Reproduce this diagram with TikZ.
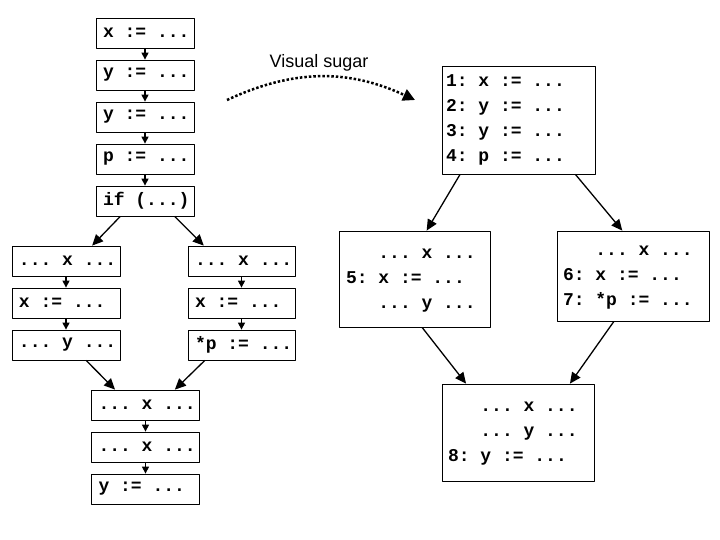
\documentclass[tikz,border=0pt]{standalone}
\usepackage{fontspec}
\setmainfont{Liberation Sans}
\newfontfamily\codefont{Liberation Mono}
\newcommand\codesize{\fontsize{18}{25}\selectfont}
\newcommand\csp{\hbox to 0.6em{}}% one fixed mono blank
\usetikzlibrary{arrows.meta,calc}

\begin{document}
\begin{tikzpicture}[x=1pt, y=-1pt, line join=round,
		blk/.style={draw, line width=0.8pt, inner xsep=7pt, inner ysep=0pt, minimum height=30pt, align=left,
			font=\codefont\bfseries\codesize},
		flow/.style={-{Triangle[length=7pt,width=7pt]}, line width=1.2pt},
		bigflow/.style={-{Triangle[length=11pt,width=10pt]}, line width=1.3pt}]
	\useasboundingbox (0,0) rectangle (720,540);
	% original code, one statement per block
	\node[blk, text width=84pt] (s1) at (145,33) {x\csp:=\csp...};
	\node[blk, text width=84pt] (s2) at (145,75) {y\csp:=\csp...};
	\node[blk, text width=84pt] (s3) at (145,117) {y\csp:=\csp...};
	\node[blk, text width=84pt] (s4) at (145,159) {p\csp:=\csp...};
	\node[blk, text width=84pt] (cond) at (145,201) {if\csp(...)};
	\node[blk, text width=94pt] (l1) at (66,261) {...\csp x\csp...};
	\node[blk, text width=94pt] (l2) at (66,303) {x\csp:=\csp...};
	\node[blk, text width=94pt] (l3) at (66,345) {...\csp y\csp...};
	\node[blk, text width=93pt] (r1) at (241.5,261) {...\csp x\csp...};
	\node[blk, text width=93pt] (r2) at (241.5,303) {x\csp:=\csp...};
	\node[blk, text width=93pt] (r3) at (241.5,345) {*p\csp:=\csp...};
	\node[blk, text width=94pt] (m1) at (145.5,405) {...\csp x\csp...};
	\node[blk, text width=94pt] (m2) at (145.5,447) {...\csp x\csp...};
	\node[blk, text width=94pt] (m3) at (145.5,489) {y\csp:=\csp...};
	\draw[flow] (s1) -- (s2);
	\draw[flow] (s2) -- (s3);
	\draw[flow] (s3) -- (s4);
	\draw[flow] (s4) -- (cond);
	\draw[flow] (l1) -- (l2);
	\draw[flow] (l2) -- (l3);
	\draw[flow] (r1) -- (r2);
	\draw[flow] (r2) -- (r3);
	\draw[flow] (m1) -- (m2);
	\draw[flow] (m2) -- (m3);
	\draw[bigflow] ($(cond.south west)!0.25!(cond.south east)$) -- ($(l1.north west)!0.74!(l1.north east)$);
	\draw[bigflow] ($(cond.south west)!0.8!(cond.south east)$) -- ($(r1.north west)!0.15!(r1.north east)$);
	\draw[bigflow] ($(l3.south west)!0.685!(l3.south east)$) -- ($(m1.north west)!0.22!(m1.north east)$);
	\draw[bigflow] ($(r3.south west)!0.16!(r3.south east)$) -- ($(m1.north west)!0.77!(m1.north east)$);
	% numbered basic blocks
	\node[blk, inner xsep=4pt, text width=145pt, minimum height=108pt] (b1) at (518.5,120)
		{1:\csp x\csp:=\csp...\\2:\csp y\csp:=\csp...\\3:\csp y\csp:=\csp...\\4:\csp p\csp:=\csp...};
	\node[blk, text width=137pt, minimum height=96pt] (b2) at (414.5,279)
		{\phantom{5:\csp}...\csp x\csp...\\5:\csp x\csp:=\csp...\\\phantom{5:\csp}...\csp y\csp...};
	\node[blk, inner xsep=6pt, text width=140pt, minimum height=90pt] (b3) at (633,276)
		{\phantom{6:\csp}...\csp x\csp...\\6:\csp x\csp:=\csp...\\7:\csp*p\csp:=\csp...};
	\node[blk, inner xsep=6pt, text width=140pt, minimum height=97pt] (b4) at (518,432.5)
		{\phantom{8:\csp}...\csp x\csp...\\\phantom{8:\csp}...\csp y\csp...\\8:\csp y\csp:=\csp...};
	\draw[bigflow] ($(b1.south west)!0.12!(b1.south east)$) -- ($(b2.north west)!0.58!(b2.north east)$);
	\draw[bigflow] ($(b1.south west)!0.87!(b1.south east)$) -- ($(b3.north west)!0.43!(b3.north east)$);
	\draw[bigflow] ($(b2.south west)!0.55!(b2.south east)$) -- ($(b4.north west)!0.16!(b4.north east)$);
	\draw[bigflow] ($(b3.south west)!0.375!(b3.south east)$) -- ($(b4.north west)!0.84!(b4.north east)$);
	% the sugar arrow
	\node[font=\fontsize{18}{20}\selectfont] (sugar) at (319,63) {Visual sugar};
	\coordinate (ds) at (227,100);
	\coordinate (de) at (415,100);
	\draw[line width=2.5pt, dash pattern=on 2.5pt off 2pt, -{Triangle[length=12pt,width=12pt]}] (ds) to[bend left=25] (de);
\end{tikzpicture}
\end{document}
